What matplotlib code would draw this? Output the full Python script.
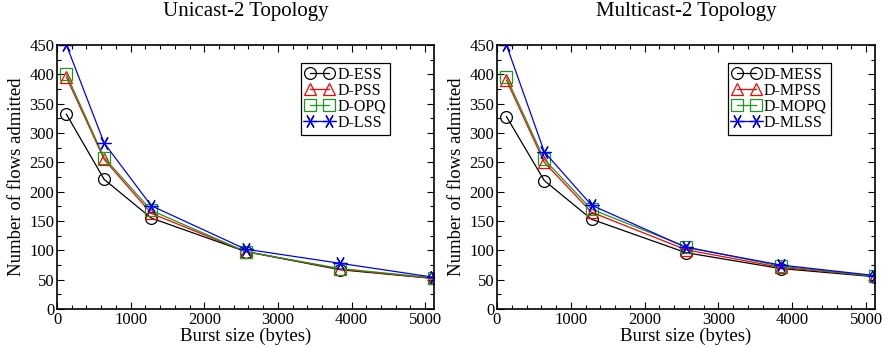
import numpy as np
import matplotlib.pyplot as plt
from matplotlib.ticker import MultipleLocator

plt.rcParams['font.family'] = ['Liberation Serif', 'DejaVu Serif']
plt.rcParams['mathtext.fontset'] = 'stix'

# burst sizes (bytes)
burst = [128, 640, 1280, 2560, 3840, 5120]

# Unicast-2 topology
uni_ess = [332, 221, 155, 98, 67, 52]
uni_pss = [395, 255, 163, 98, 68, 52]
uni_opq = [400, 258, 168, 98, 69, 53]
uni_lss = [450, 283, 176, 102, 78, 54]

# Multicast-2 topology
mul_ess = [328, 219, 153, 96, 69, 55]
mul_pss = [390, 250, 165, 101, 71, 56]
mul_opq = [395, 255, 170, 106, 73, 56]
mul_lss = [450, 268, 177, 105, 75, 57]

styles = [dict(color='black', marker='o', markersize=8.5),
          dict(color='red', marker='^', markersize=9),
          dict(color='#1a9a1a', marker='s', markersize=8),
          dict(color='blue', marker=(6, 2, 90), markersize=10)]


def draw(ax, series, labels, title):
    for y, lab, st in zip(series, labels, styles):
        ax.plot(burst, y, color=st['color'], marker=st['marker'],
                markersize=st['markersize'], markerfacecolor='none',
                markeredgecolor=st['color'], markeredgewidth=0.9,
                linewidth=0.9, label=lab)
    ax.set_xlim(0, 5120)
    ax.set_ylim(0, 450)
    ax.xaxis.set_major_locator(MultipleLocator(1000))
    ax.xaxis.set_minor_locator(MultipleLocator(200))
    ax.yaxis.set_major_locator(MultipleLocator(50))
    ax.yaxis.set_minor_locator(MultipleLocator(25))
    ax.tick_params(which='both', direction='in', top=True, right=True,
                   labelsize=12, pad=2)
    ax.tick_params(which='major', length=5, width=0.8)
    ax.tick_params(which='minor', length=3, width=0.8)
    for s in ax.spines.values():
        s.set_linewidth(1.2)
    ax.set_xlabel('Burst size (bytes)', fontsize=13.5, labelpad=0)
    ax.set_ylabel('Number of flows admitted', fontsize=13.5, labelpad=3)
    ax.set_title(title, fontsize=15, pad=21)
    leg = ax.legend(loc='upper right', bbox_to_anchor=(0.883, 0.932),
                    borderaxespad=0, fontsize=11.5, numpoints=2,
                    handlelength=1.8, handletextpad=0.2, borderpad=0.25,
                    labelspacing=0.0, fancybox=False, edgecolor='black',
                    framealpha=1)
    leg.get_frame().set_linewidth(0.9)


fig = plt.figure(figsize=(8.83, 3.49), dpi=100)
ax1 = fig.add_axes([57 / 883, 40 / 349, 377 / 883, 264 / 349])
ax2 = fig.add_axes([497 / 883, 40 / 349, 378 / 883, 264 / 349])

draw(ax1, [uni_ess, uni_pss, uni_opq, uni_lss],
     ['D-ESS', 'D-PSS', 'D-OPQ', 'D-LSS'], 'Unicast-2 Topology')
draw(ax2, [mul_ess, mul_pss, mul_opq, mul_lss],
     ['D-MESS', 'D-MPSS', 'D-MOPQ', 'D-MLSS'], 'Multicast-2 Topology')

fig.savefig('out.png', dpi=100)
